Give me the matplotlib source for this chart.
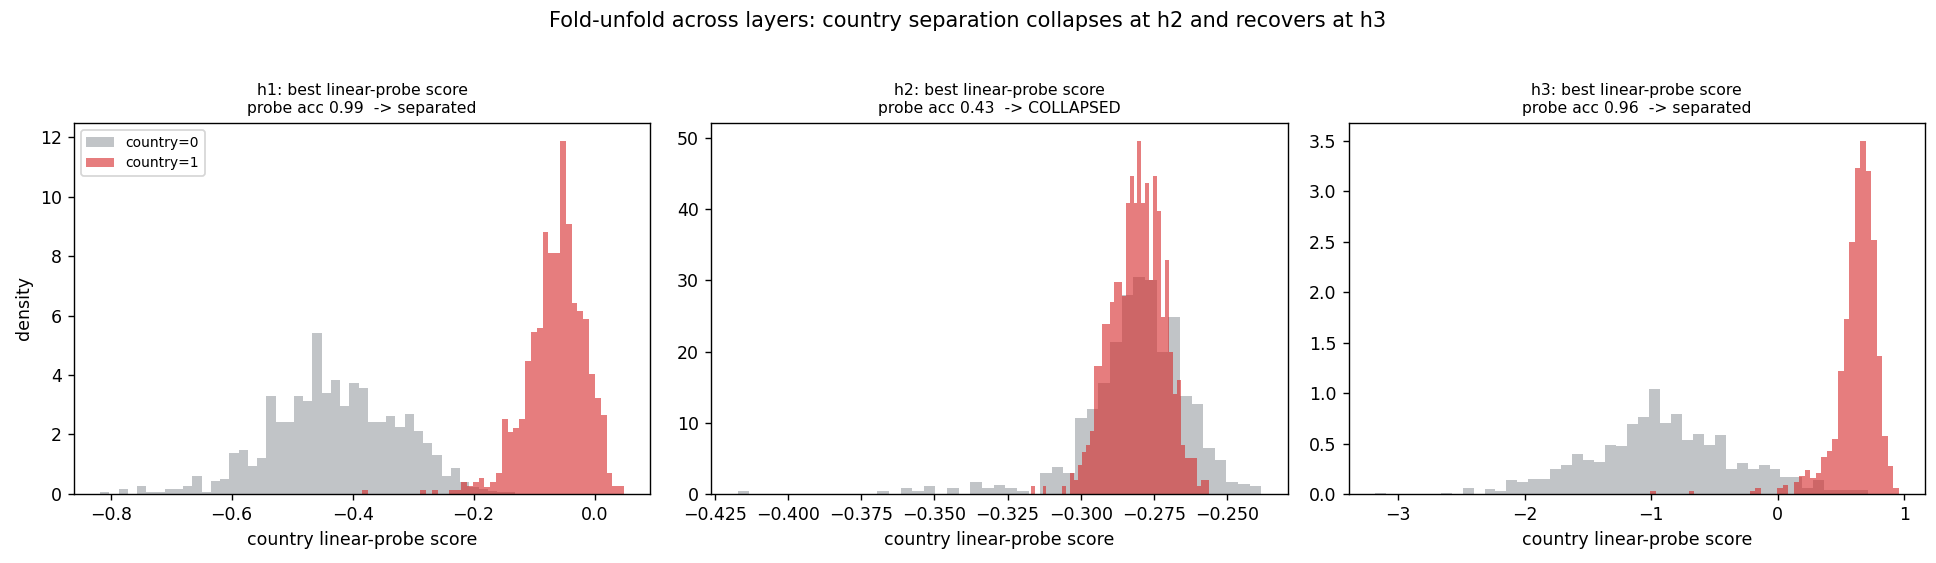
import numpy as np
import matplotlib
matplotlib.use("Agg")
import matplotlib.pyplot as plt

# histogram densities, 45 bins per series
# layer h1
h1_c0_range = (-0.8174, -0.1307)
h1_c0 = [0.06, 0, 0.16, 0, 0.26, 0.06, 0.06, 0.16, 0.16, 0.26, 0.60, 0.06, 0.43, 0.50,
         1.37, 1.47, 0.95, 1.21, 3.29, 2.42, 2.42, 3.29, 3.12, 5.41, 3.39, 3.83, 2.96,
         3.73, 3.56, 2.42, 2.42, 2.62, 2.25, 2.69, 2.11, 1.73, 1.31, 0.61, 0.87, 0.41,
         0.25, 0.16, 0.10, 0.06, 0.06]
h1_c1_range = (-0.3841, 0.0488)
h1_c1 = [0.14, 0, 0, 0, 0, 0, 0, 0, 0, 0, 0.14, 0, 0.14, 0, 0, 0.14, 0.14, 0.40, 0.27,
         0.40, 0.53, 0.25, 0.40, 0.70, 2.53, 2.08, 2.22, 2.53, 4.47, 5.45, 5.58, 8.82,
         8.11, 8.11, 11.88, 9.09, 6.42, 6.15, 5.89, 4.05, 3.23, 2.65, 0.70, 0.27, 0.27]

# layer h2
h2_c0_range = (-0.4172, -0.2383)
h2_c0 = [0.35, 0, 0, 0, 0, 0, 0, 0, 0, 0, 0, 0, 0.35, 0, 0.77, 0.35, 1.05, 0, 0.77, 0,
         1.75, 0.77, 1.33, 0.77, 0.35, 0, 3.0, 3.72, 3.0, 10.73, 12.0, 15.6, 21.4, 27.9,
         30.4, 30.1, 19.9, 24.8, 13.7, 12.7, 6.4, 4.7, 1.75, 1.42, 1.14]
h2_c1_range = (-0.3171, -0.2563)
h2_c1 = [1.15, 0, 0, 1.15, 0, 0, 0, 0, 1.15, 0, 3.0, 2.0, 4.0, 5.96, 6.9, 8.9, 17.9,
         17.9, 23.9, 23.9, 26.9, 29.8, 29.8, 27.8, 40.8, 44.7, 40.8, 49.6, 40.8, 43.7,
         30.0, 44.7, 39.7, 24.9, 32.8, 19.9, 14.0, 16.0, 6.9, 5.0, 5.0, 5.0, 1.05, 2.0, 2.0]

# layer h3
h3_c0_range = (-3.183, 0.714)
h3_c0 = [0.012, 0, 0, 0, 0, 0, 0.012, 0, 0.056, 0, 0.05, 0.03, 0.14, 0.12, 0.15, 0.15,
         0.25, 0.29, 0.40, 0.34, 0.32, 0.49, 0.48, 0.69, 0.76, 1.04, 0.70, 0.79, 0.53,
         0.59, 0.49, 0.58, 0.25, 0.31, 0.25, 0.29, 0.25, 0.17, 0.17, 0.06, 0.135, 0.04,
         0.04, 0.04, 0.04]
h3_c1_range = (-1.008, 0.9556)
h3_c1 = [0.026, 0, 0, 0, 0, 0, 0, 0.026, 0, 0, 0, 0, 0, 0, 0, 0, 0, 0, 0.026, 0.059,
         0, 0, 0, 0.059, 0.089, 0, 0.116, 0.175, 0.234, 0.16, 0.21, 0.37, 0.43, 0.54,
         1.22, 1.73, 2.50, 3.23, 3.50, 3.20, 2.52, 1.37, 0.57, 0.28, 0.06]

layers = ["h1", "h2", "h3"]
accs = [0.99, 0.43, 0.96]
verdicts = ["separated", "COLLAPSED", "separated"]
panels = [(h1_c0_range, h1_c0, h1_c1_range, h1_c1),
          (h2_c0_range, h2_c0, h2_c1_range, h2_c1),
          (h3_c0_range, h3_c0, h3_c1_range, h3_c1)]

gray = "#858b91"
red = "tab:red"

fig, axes = plt.subplots(1, 3, figsize=(1936 / 125, 563 / 125), dpi=125)
fig.subplots_adjust(left=0.0382, right=0.9943, bottom=0.1226, top=0.7815, wspace=0.106)

for ax, name, acc, verdict, (r0, d0, r1, d1) in zip(axes, layers, accs, verdicts, panels):
    e0 = np.linspace(r0[0], r0[1], len(d0) + 1)
    e1 = np.linspace(r1[0], r1[1], len(d1) + 1)
    ax.hist(e0[:-1], bins=e0, weights=d0, color=gray, alpha=0.5, label="country=0")
    ax.hist(e1[:-1], bins=e1, weights=d1, color=red, alpha=0.6, label="country=1")
    ax.set_title(f"{name}: best linear-probe score\nprobe acc {acc:.2f}  -> {verdict}", fontsize=9)
    ax.set_xlabel("country linear-probe score")

axes[0].set_ylabel("density")
axes[0].legend(loc="upper left", fontsize=8)
fig.suptitle("Fold-unfold across layers: country separation collapses at h2 and recovers at h3")

fig.savefig("out.png", dpi=125)
